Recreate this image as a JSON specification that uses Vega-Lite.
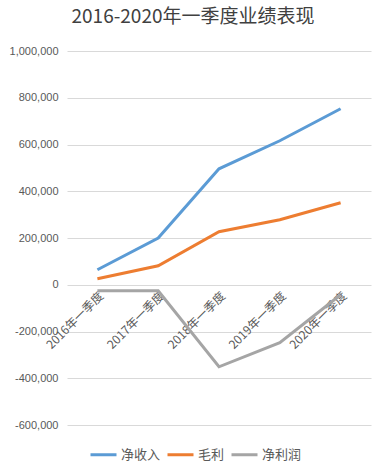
{
  "$schema": "https://vega.github.io/schema/vega-lite/v6.json",
  "autosize": {"type": "none"},
  "width": 304,
  "height": 374,
  "padding": {"left": 67, "top": 51, "right": 16, "bottom": 45},
  "background": "white",
  "title": {
    "text": "2016-2020年一季度业绩表现",
    "fontSize": 19,
    "font": "Noto Sans CJK SC",
    "fontWeight": "normal",
    "color": "#404040",
    "anchor": "middle",
    "dx": -26,
    "offset": 18
  },
  "data": {
    "values": [
      {"q": "2016年一季度", "s": "净收入", "v": 64000},
      {"q": "2017年一季度", "s": "净收入", "v": 200000},
      {"q": "2018年一季度", "s": "净收入", "v": 496000},
      {"q": "2019年一季度", "s": "净收入", "v": 616000},
      {"q": "2020年一季度", "s": "净收入", "v": 753000},
      {"q": "2016年一季度", "s": "毛利", "v": 26000},
      {"q": "2017年一季度", "s": "毛利", "v": 81000},
      {"q": "2018年一季度", "s": "毛利", "v": 227000},
      {"q": "2019年一季度", "s": "毛利", "v": 278000},
      {"q": "2020年一季度", "s": "毛利", "v": 351000},
      {"q": "2016年一季度", "s": "净利润", "v": -26000},
      {"q": "2017年一季度", "s": "净利润", "v": -26000},
      {"q": "2018年一季度", "s": "净利润", "v": -351000},
      {"q": "2019年一季度", "s": "净利润", "v": -248000},
      {"q": "2020年一季度", "s": "净利润", "v": -43000}
    ]
  },
  "mark": {"type": "line", "strokeWidth": 3},
  "encoding": {
    "x": {
      "field": "q",
      "type": "ordinal",
      "sort": null,
      "scale": {"type": "point", "padding": 0.5},
      "axis": {
        "title": null,
        "orient": "bottom",
        "offset": -140,
        "labelAngle": -45,
        "labelFont": "Noto Sans CJK SC",
        "labelFontSize": 12,
        "labelColor": "#595959",
        "ticks": false,
        "domain": false,
        "grid": false,
        "labelPadding": 5
      }
    },
    "y": {
      "field": "v",
      "type": "quantitative",
      "scale": {"domain": [-600000, 1000000], "nice": false},
      "axis": {
        "title": null,
        "values": [-600000, -400000, -200000, 0, 200000, 400000, 600000, 800000, 1000000],
        "format": ",d",
        "labelExpr": "replace(datum.label, '−', '-')",
        "labelFont": "Liberation Sans",
        "labelFontSize": 11,
        "labelColor": "#595959",
        "ticks": false,
        "domain": false,
        "gridColor": "#d9d9d9",
        "gridWidth": 1,
        "labelPadding": 9
      }
    },
    "color": {
      "field": "s",
      "type": "nominal",
      "sort": ["净收入", "毛利", "净利润"],
      "scale": {"domain": ["净收入", "毛利", "净利润"], "range": ["#5B9BD5", "#ED7D31", "#A5A5A5"]},
      "legend": {
        "title": null,
        "orient": "none",
        "direction": "horizontal",
        "legendX": 22,
        "legendY": 389,
        "symbolType": "stroke",
        "symbolSize": 676,
        "symbolStrokeWidth": 3,
        "labelFont": "Noto Sans CJK SC",
        "labelFontSize": 13,
        "labelColor": "#595959",
        "labelOffset": 3,
        "columnPadding": 0
      }
    }
  },
  "config": {"view": {"stroke": null}}
}
